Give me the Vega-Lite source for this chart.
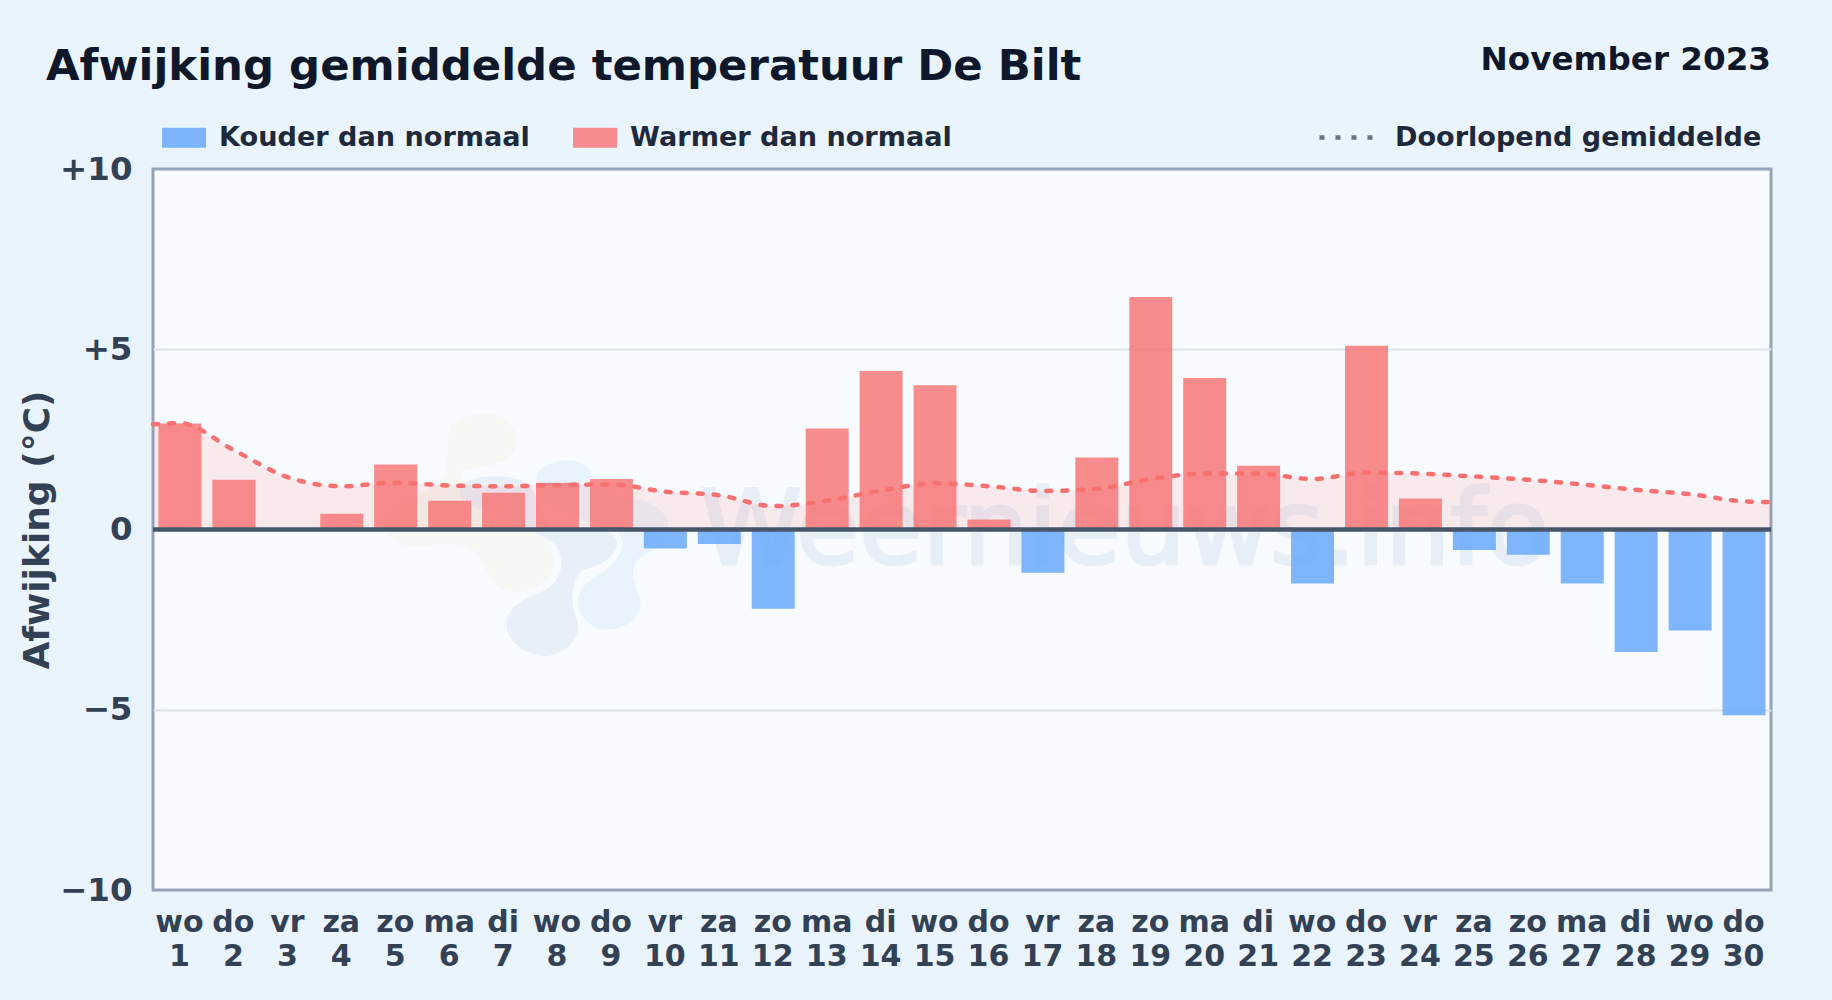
{
"$schema":"https://vega.github.io/schema/vega-lite/v6.json",
"width":1618,"height":721,"autosize":"none",
"padding":{"left":153,"top":169,"right":61,"bottom":110},
"background":"#eaf4fc",
"config":{"font":"DejaVu Sans","view":{"fill":"#f8fbff","stroke":"#94a3b8","strokeWidth":3}},
"datasets":{
"days":[
{"day":1,"value":2.94,"kind":"Warmer dan normaal"},{"day":2,"value":1.38,"kind":"Warmer dan normaal"},{"day":3,"value":0,"kind":"Warmer dan normaal"},{"day":4,"value":0.44,"kind":"Warmer dan normaal"},{"day":5,"value":1.8,"kind":"Warmer dan normaal"},{"day":6,"value":0.8,"kind":"Warmer dan normaal"},{"day":7,"value":1.02,"kind":"Warmer dan normaal"},{"day":8,"value":1.3,"kind":"Warmer dan normaal"},{"day":9,"value":1.4,"kind":"Warmer dan normaal"},{"day":10,"value":-0.53,"kind":"Kouder dan normaal"},{"day":11,"value":-0.4,"kind":"Kouder dan normaal"},{"day":12,"value":-2.2,"kind":"Kouder dan normaal"},{"day":13,"value":2.8,"kind":"Warmer dan normaal"},{"day":14,"value":4.4,"kind":"Warmer dan normaal"},{"day":15,"value":4.0,"kind":"Warmer dan normaal"},{"day":16,"value":0.28,"kind":"Warmer dan normaal"},{"day":17,"value":-1.2,"kind":"Kouder dan normaal"},{"day":18,"value":2.0,"kind":"Warmer dan normaal"},{"day":19,"value":6.45,"kind":"Warmer dan normaal"},{"day":20,"value":4.2,"kind":"Warmer dan normaal"},{"day":21,"value":1.77,"kind":"Warmer dan normaal"},{"day":22,"value":-1.5,"kind":"Kouder dan normaal"},{"day":23,"value":5.1,"kind":"Warmer dan normaal"},{"day":24,"value":0.86,"kind":"Warmer dan normaal"},{"day":25,"value":-0.57,"kind":"Kouder dan normaal"},{"day":26,"value":-0.7,"kind":"Kouder dan normaal"},{"day":27,"value":-1.5,"kind":"Kouder dan normaal"},{"day":28,"value":-3.4,"kind":"Kouder dan normaal"},{"day":29,"value":-2.8,"kind":"Kouder dan normaal"},{"day":30,"value":-5.15,"kind":"Kouder dan normaal"}],
"mean":[
{"day":0.5,"mean":2.92,"name":"Doorlopend gemiddelde"},{"day":1,"mean":2.95,"name":"Doorlopend gemiddelde"},{"day":2,"mean":2.2,"name":"Doorlopend gemiddelde"},{"day":3,"mean":1.45,"name":"Doorlopend gemiddelde"},{"day":4,"mean":1.2,"name":"Doorlopend gemiddelde"},{"day":5,"mean":1.3,"name":"Doorlopend gemiddelde"},{"day":6,"mean":1.22,"name":"Doorlopend gemiddelde"},{"day":7,"mean":1.2,"name":"Doorlopend gemiddelde"},{"day":8,"mean":1.23,"name":"Doorlopend gemiddelde"},{"day":9,"mean":1.25,"name":"Doorlopend gemiddelde"},{"day":10,"mean":1.05,"name":"Doorlopend gemiddelde"},{"day":11,"mean":0.95,"name":"Doorlopend gemiddelde"},{"day":12,"mean":0.65,"name":"Doorlopend gemiddelde"},{"day":13,"mean":0.8,"name":"Doorlopend gemiddelde"},{"day":14,"mean":1.08,"name":"Doorlopend gemiddelde"},{"day":15,"mean":1.28,"name":"Doorlopend gemiddelde"},{"day":16,"mean":1.2,"name":"Doorlopend gemiddelde"},{"day":17,"mean":1.07,"name":"Doorlopend gemiddelde"},{"day":18,"mean":1.13,"name":"Doorlopend gemiddelde"},{"day":19,"mean":1.4,"name":"Doorlopend gemiddelde"},{"day":20,"mean":1.55,"name":"Doorlopend gemiddelde"},{"day":21,"mean":1.55,"name":"Doorlopend gemiddelde"},{"day":22,"mean":1.4,"name":"Doorlopend gemiddelde"},{"day":23,"mean":1.58,"name":"Doorlopend gemiddelde"},{"day":24,"mean":1.55,"name":"Doorlopend gemiddelde"},{"day":25,"mean":1.47,"name":"Doorlopend gemiddelde"},{"day":26,"mean":1.38,"name":"Doorlopend gemiddelde"},{"day":27,"mean":1.25,"name":"Doorlopend gemiddelde"},{"day":28,"mean":1.1,"name":"Doorlopend gemiddelde"},{"day":29,"mean":0.98,"name":"Doorlopend gemiddelde"},{"day":30,"mean":0.78,"name":"Doorlopend gemiddelde"},{"day":30.5,"mean":0.76,"name":"Doorlopend gemiddelde"}]
},
"encoding":{
"x":{"type":"quantitative","scale":{"domain":[0.5,30.5],"nice":false,"zero":false,"padding":0},
 "axis":{"values":[1,2,3,4,5,6,7,8,9,10,11,12,13,14,15,16,17,18,19,20,21,22,23,24,25,26,27,28,29,30],"labelExpr":"[['wo','do','vr','za','zo','ma','di'][(datum.value-1)%7], ''+datum.value]","title":null,"grid":false,"domain":false,"ticks":false,"labelFontSize":30,"labelFontWeight":"bold","labelColor":"#334155","labelPadding":17,"labelLineHeight":34,"labelOffset":-1,"labelOverlap":false,"labelFlush":false,"labelBound":false}}
},
"layer":[
{"data":{"values":[{"day":7.61,"y":-0.28}]},"mark":{"type":"point","filled":true,"opacity":1,"size":444444,"color":"#f4f9f3","shape":"M-0.26,-0.33 C-0.25,-0.37 -0.17,-0.39 -0.11,-0.37 C-0.06,-0.35 -0.05,-0.28 -0.07,-0.26 C-0.1,-0.22 -0.17,-0.22 -0.22,-0.205 C-0.25,-0.19 -0.2,-0.17 -0.17,-0.15 C-0.08,-0.11 0,-0.03 0.04,0 C0.04,0 0.06,0.05 0.045,0.1 C0.02,0.15 -0.06,0.17 -0.1,0.15 C-0.15,0.12 -0.16,0.05 -0.2,0.025 C-0.24,0 -0.32,0.02 -0.38,0.02 C-0.44,0.01 -0.47,-0.03 -0.44,-0.07 C-0.4,-0.12 -0.29,-0.15 -0.275,-0.2 C-0.26,-0.26 -0.27,-0.3 -0.26,-0.33 Z"},"encoding":{"x":{"field":"day"},"y":{"field":"y","type":"quantitative"}}},
{"data":{"values":[{"day":7.61,"y":-0.28}]},"mark":{"type":"point","filled":true,"opacity":1,"size":444444,"color":"#e8f4fd","shape":"M0,-0.19 C0.01,-0.24 0.14,-0.26 0.165,-0.2 C0.18,-0.15 0.2,-0.13 0.3,-0.12 C0.38,-0.11 0.41,-0.05 0.39,0 C0.36,0.04 0.3,0.04 0.29,0.09 C0.285,0.14 0.32,0.17 0.31,0.21 C0.29,0.26 0.23,0.28 0.18,0.265 C0.13,0.24 0.11,0.19 0.135,0.15 C0.16,0.11 0.22,0.1 0.245,0.05 C0.275,0 0.25,-0.03 0.2,-0.04 C0.1,-0.06 -0.005,-0.13 0,-0.19 Z"},"encoding":{"x":{"field":"day"},"y":{"field":"y","type":"quantitative"}}},
{"data":{"values":[{"day":7.61,"y":-0.28}]},"mark":{"type":"point","filled":true,"opacity":1,"size":444444,"color":"#e7f0f9","shape":"M-0.23,-0.15 C-0.22,-0.19 -0.12,-0.2 -0.05,-0.18 C0.02,-0.15 0,-0.06 0.05,-0.03 C0.12,-0.02 0.22,-0.05 0.24,0 C0.25,0.04 0.2,0.08 0.14,0.09 C0.1,0.12 0.1,0.2 0.125,0.25 C0.13,0.3 0.08,0.35 0.02,0.35 C-0.05,0.34 -0.09,0.3 -0.09,0.25 C-0.09,0.2 -0.02,0.17 0.03,0.15 C0.08,0.12 0.09,0.05 0.05,0.01 C-0.02,-0.04 -0.12,-0.07 -0.19,-0.1 C-0.22,-0.12 -0.235,-0.13 -0.23,-0.15 Z"},"encoding":{"x":{"field":"day"},"y":{"field":"y","type":"quantitative"}}},
{"data":{"values":[{"day":18.52,"y":-0.97,"t":"Weernieuws.info"}]},"mark":{"type":"text","font":"DejaVu Sans","fontSize":103,"fontWeight":"normal","color":"#e6eff8","stroke":"#e6eff8","strokeWidth":3,"align":"center","baseline":"alphabetic"},"encoding":{"x":{"field":"day"},"y":{"field":"y","type":"quantitative"},"text":{"field":"t"}}},
{"data":{"name":"mean"},"mark":{"type":"area","interpolate":"monotone","color":"#f87171","opacity":0.13},"encoding":{"x":{"field":"day"},"y":{"field":"mean","type":"quantitative","stack":null},"y2":{"datum":0}}},
{"data":{"name":"days"},"mark":{"type":"bar","size":43,"orient":"vertical","opacity":0.8},"encoding":{"x":{"field":"day"},"y":{"field":"value","type":"quantitative","scale":{"domain":[-10,10],"nice":false},"axis":{"values":[-10,-5,0,5,10],"labelExpr":"datum.value>0 ? '+'+datum.value : datum.value<0 ? '\u2212'+abs(datum.value) : '0'","title":"Afwijking (\u00b0C)","titleFontSize":36,"titleFontWeight":"bold","titleColor":"#334155","titlePadding":3,"grid":true,"gridColor":{"condition":{"test":"abs(datum.value)==5","value":"#dbe3ea"},"value":"transparent"},"gridWidth":2,"domain":false,"ticks":false,"labelFontSize":32.5,"labelFontWeight":"bold","labelColor":"#334155","labelPadding":21,"labelOverlap":false,"labelBound":false,"labelFlush":false}},
 "color":{"field":"kind","type":"nominal","scale":{"domain":["Kouder dan normaal","Warmer dan normaal"],"range":["#60a5fa","#f87171"]},"legend":{"orient":"none","legendX":5.5,"legendY":-45,"direction":"horizontal","title":null,"padding":0,"symbolType":"M-1,-1H3.4V1H-1Z","symbolSize":400,"symbolStrokeWidth":0,"symbolOpacity":0.8,"labelFontSize":27.1,"labelFontWeight":"bold","labelColor":"#1e293b","labelOffset":33.5,"columnPadding":39,"labelLimit":400}}}},
{"data":{"name":"mean"},"mark":{"type":"line","interpolate":"monotone","color":"#f87171","strokeWidth":4.5,"strokeCap":"round"},"encoding":{"x":{"field":"day"},"y":{"field":"mean","type":"quantitative"},"strokeDash":{"field":"name","type":"nominal","scale":{"range":[[5,11]]},"legend":{"orient":"none","legendX":1164,"legendY":-62,"title":null,"padding":0,"symbolType":"stroke","symbolSize":3136,"symbolStrokeWidth":4.5,"symbolStrokeColor":"#64748b","labelFontSize":27.1,"labelFontWeight":"bold","labelColor":"#1e293b","labelOffset":17,"labelLimit":400}}}},
{"data":{"values":[{"y":0}]},"mark":{"type":"rule","color":"#475569","strokeWidth":4.5},"encoding":{"y":{"field":"y","type":"quantitative"},"x":{"datum":0.5},"x2":{"datum":30.5}}},
{"data":{"values":[{"day":30.5,"y":12.75,"t":"November 2023"}]},"mark":{"type":"text","font":"DejaVu Sans","fontSize":32.6,"fontWeight":"bold","color":"#0f172a","align":"right","baseline":"alphabetic","clip":false},"encoding":{"x":{"field":"day"},"y":{"field":"y","type":"quantitative"},"text":{"field":"t"}}},
{"data":{"values":[{"day":-1.484,"y":12.47,"t":"Afwijking gemiddelde temperatuur De Bilt"}]},"mark":{"type":"text","font":"DejaVu Sans","fontSize":43.4,"fontWeight":"bold","color":"#0f172a","align":"left","baseline":"alphabetic","clip":false},"encoding":{"x":{"field":"day"},"y":{"field":"y","type":"quantitative"},"text":{"field":"t"}}}
]
}
